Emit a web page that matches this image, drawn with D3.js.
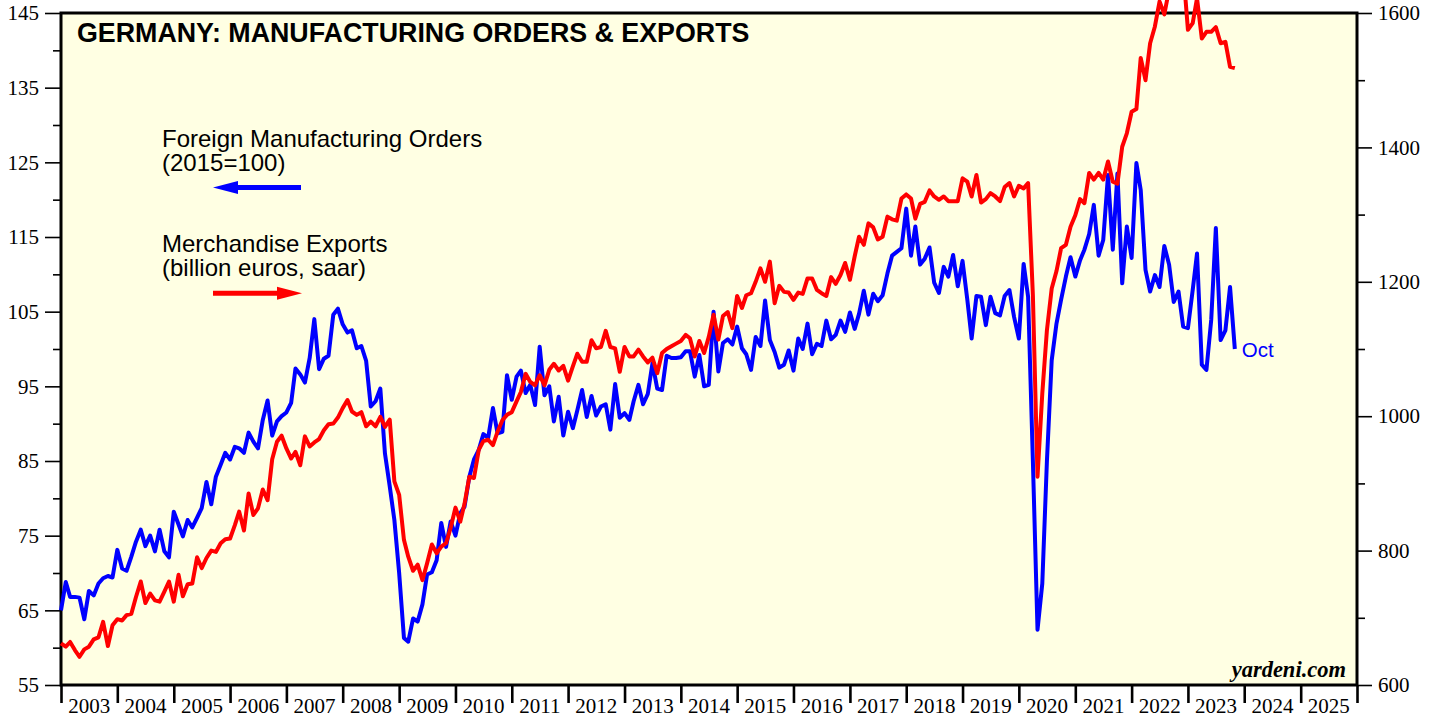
<!DOCTYPE html>
<html><head><meta charset="utf-8">
<script src="https://cdn.jsdelivr.net/npm/d3@7"></script>
<style>
html,body{margin:0;padding:0;background:#fff;}
svg{display:block;}
</style></head><body>
<svg id="chart" width="1438" height="717"></svg>
<script>
// ---------- data ----------
const chartTitle = "GERMANY: MANUFACTURING ORDERS & EXPORTS";
const firstMonth = [2002, 11]; // Dec 2002 (year, monthIndex)
const foreignOrders = [
  65.0, 68.8, 66.8, 66.8, 66.7, 63.8, 67.6, 67.0, 68.6, 69.3, 69.6, 69.4,
  73.1, 70.6, 70.3, 72.2, 74.2, 75.8, 73.6, 75.0, 72.9, 75.8, 72.9, 72.1,
  78.2, 76.5, 74.9, 77.1, 76.1, 77.4, 78.7, 82.2, 79.2, 82.9, 84.5, 86.1,
  85.2, 86.9, 86.7, 86.1, 88.8, 87.6, 86.7, 90.5, 93.1, 88.4, 90.3, 91.0,
  91.5, 92.8, 97.4, 96.6, 95.5, 98.8, 104.0, 97.3, 98.7, 99.1, 104.6, 105.4,
  103.3, 102.2, 102.5, 100.1, 100.4, 98.4, 92.3, 93.0, 94.7, 86.0, 81.6, 77.1,
  70.0, 61.3, 60.8, 63.9, 63.5, 65.8, 69.8, 70.1, 71.7, 76.7, 73.5, 76.9,
  75.0, 78.0, 78.9, 82.9, 85.2, 86.5, 88.6, 88.1, 92.1, 88.7, 88.9, 96.5,
  93.2, 96.3, 97.1, 94.1, 95.2, 92.5, 100.3, 93.8, 95.0, 90.3, 93.6, 88.4,
  91.6, 89.4, 91.8, 94.5, 90.9, 93.7, 91.1, 92.3, 92.6, 89.2, 95.3, 90.8,
  91.4, 90.5, 93.0, 95.2, 92.6, 94.0, 98.1, 94.7, 94.5, 99.1, 98.8, 98.8,
  98.9, 99.7, 99.7, 96.3, 99.2, 95.0, 95.2, 105.0, 97.0, 100.8, 101.3, 100.6,
  103.0, 100.1, 99.3, 97.2, 101.6, 100.4, 106.5, 101.2, 99.6, 97.5, 97.9, 99.8,
  97.1, 101.4, 100.0, 103.4, 99.3, 100.7, 100.4, 103.8, 101.3, 101.9, 103.8, 102.3,
  104.9, 102.7, 104.7, 107.8, 104.6, 107.4, 106.4, 107.2, 110.1, 112.5, 113.0, 113.5,
  118.8, 112.5, 116.4, 111.3, 112.1, 113.6, 108.9, 107.5, 111.0, 109.7, 112.6, 108.4,
  111.8, 106.6, 101.4, 107.1, 107.0, 103.2, 107.0, 104.8, 104.5, 107.1, 107.9, 104.3,
  101.4, 111.4, 107.0, 85.0, 62.4, 68.6, 85.0, 98.5, 103.4, 106.6, 109.7, 112.3,
  109.7, 111.9, 113.3, 115.4, 119.3, 112.5, 114.6, 123.3, 113.3, 123.5, 108.8, 116.4,
  112.2, 124.9, 121.3, 110.6, 107.7, 109.9, 108.3, 113.8, 111.3, 106.3, 107.7, 103.0,
  102.8, 107.9, 112.8, 97.9, 97.2, 103.9, 116.2, 101.2, 102.5, 108.3, 100.0
];
const merchandiseExports = [
  662, 657, 664, 652, 642, 653, 657, 668, 671, 694, 658, 689,
  698, 696, 704, 706, 731, 754, 722, 736, 726, 724, 739, 754,
  724, 764, 732, 750, 751, 790, 774, 789, 800, 798, 811, 817,
  818, 838, 858, 830, 885, 853, 863, 891, 875, 936, 962, 971,
  952, 937, 947, 927, 970, 955, 961, 966, 979, 988, 989, 998,
  1012, 1024, 1007, 1002, 1006, 985, 992, 985, 999, 984, 995, 903,
  883, 816, 791, 770, 779, 756, 781, 809, 796, 806, 811, 834,
  864, 843, 870, 910, 908, 950, 963, 965, 957, 977, 994, 1002,
  1006, 1022, 1036, 1063, 1051, 1046, 1061, 1046, 1069, 1078, 1068, 1075,
  1053, 1074, 1093, 1081, 1081, 1113, 1101, 1103, 1127, 1103, 1101, 1066,
  1103, 1089, 1089, 1099, 1089, 1080, 1087, 1064, 1094, 1100, 1104, 1108,
  1112, 1121, 1116, 1089, 1112, 1094, 1118, 1151, 1114, 1149, 1155, 1131,
  1179, 1161, 1180, 1183, 1200, 1220, 1200, 1230, 1168, 1194, 1185, 1184,
  1173, 1184, 1182, 1205, 1205, 1188, 1183, 1179, 1207, 1197, 1210, 1228,
  1203, 1238, 1267, 1255, 1287, 1281, 1263, 1267, 1297, 1293, 1291, 1324,
  1330, 1324, 1294, 1316, 1319, 1336, 1327, 1322, 1327, 1320, 1320, 1320,
  1354, 1349, 1327, 1359, 1318, 1323, 1332, 1327, 1320, 1341, 1347, 1327,
  1343, 1339, 1347, 1180, 910, 1034, 1128, 1190, 1216, 1250, 1255, 1282,
  1299, 1323, 1317, 1362, 1352, 1362, 1352, 1379, 1349, 1346, 1401, 1421,
  1453, 1457, 1533, 1500, 1555, 1580, 1617, 1598, 1635, 1660, 1650, 1665,
  1575, 1585, 1622, 1562, 1572, 1572, 1579, 1555, 1557, 1520, 1518
];
const leftTicks = [55, 65, 75, 85, 95, 105, 115, 125, 135, 145];
const leftMinorTicks = [60, 70, 80, 90, 100, 110, 120, 130, 140];
const rightTicks = [600, 800, 1000, 1200, 1400, 1600];
const rightMinorTicks = [700, 900, 1100, 1300, 1500];
const yearLabels = d3.range(2003, 2026);
const legendOrders = ["Foreign Manufacturing Orders", "(2015=100)"];
const legendExports = ["Merchandise Exports", "(billion euros, saar)"];
const lastLabel = "Oct";
const sourceLabel = "yardeni.com";

// ---------- layout ----------
const M = {left: 61, right: 1357, top: 13, bottom: 685};
const BLUE = "#0000ff", RED = "#ff0000";
const SERIF = "'Liberation Serif','Times New Roman',serif";
const SANS = "'Liberation Sans',Arial,Helvetica,sans-serif";

const svg = d3.select("#chart");

const x = d3.scaleTime()
  .domain([new Date(2003, 0, 1), new Date(2026, 0, 1)])
  .range([M.left, M.right]);
const yL = d3.scaleLinear().domain([55, 145]).range([M.bottom, M.top]);
const yR = d3.scaleLinear().domain([600, 1600]).range([M.bottom, M.top]);

const monthDate = i => new Date(firstMonth[0], firstMonth[1] + i, 1);
// each monthly value is plotted at the end of its month
const plotDate = i => d3.timeMonth.offset(monthDate(i), 1);

// plot background
svg.append("rect")
  .attr("x", M.left).attr("y", M.top)
  .attr("width", M.right - M.left).attr("height", M.bottom - M.top)
  .attr("fill", "#ffffe3");

// ---------- axes ----------
function styleAxis(g, sw) {
  g.select(".domain").remove();
  g.selectAll("line").attr("stroke", "#000").attr("stroke-width", sw);
  g.selectAll("text").attr("fill", "#000")
    .style("font-family", SERIF).style("font-size", "21px");
}

svg.append("g").attr("transform", `translate(${M.left},0)`)
  .call(d3.axisLeft(yL).tickValues(leftTicks).tickSize(16).tickPadding(6).tickFormat(d3.format("d")))
  .call(g => styleAxis(g, 1.6));
svg.append("g").attr("transform", `translate(${M.left},0)`)
  .call(d3.axisLeft(yL).tickValues(leftMinorTicks).tickSize(8).tickFormat(""))
  .call(g => styleAxis(g, 1.6));

svg.append("g").attr("transform", `translate(${M.right},0)`)
  .call(d3.axisRight(yR).tickValues(rightTicks).tickSize(15).tickPadding(6).tickFormat(d3.format("d")))
  .call(g => styleAxis(g, 1.6));
svg.append("g").attr("transform", `translate(${M.right},0)`)
  .call(d3.axisRight(yR).tickValues(rightMinorTicks).tickSize(8).tickFormat(""))
  .call(g => styleAxis(g, 1.6));

const yearBounds = d3.range(2003, 2027).map(y => new Date(y, 0, 1));
svg.append("g").attr("transform", `translate(0,${M.bottom})`)
  .call(d3.axisBottom(x).tickValues(yearBounds).tickSize(18).tickFormat(""))
  .call(g => styleAxis(g, 2.6));

svg.append("g").selectAll("text").data(yearLabels).join("text")
  .attr("x", d => (x(new Date(d, 0, 1)) + x(new Date(d + 1, 0, 1))) / 2)
  .attr("y", 713)
  .attr("text-anchor", "middle")
  .style("font-family", SERIF).style("font-size", "21px")
  .text(d => d);

// frame
svg.append("rect")
  .attr("x", M.left).attr("y", M.top)
  .attr("width", M.right - M.left).attr("height", M.bottom - M.top)
  .attr("fill", "none").attr("stroke", "#000").attr("stroke-width", 3);

// ---------- series ----------
const lineL = d3.line().x((d, i) => x(plotDate(i))).y(d => yL(d));
const lineR = d3.line().x((d, i) => x(plotDate(i))).y(d => yR(d));

svg.append("path").datum(foreignOrders)
  .attr("d", lineL).attr("fill", "none")
  .attr("stroke", BLUE).attr("stroke-width", 4)
  .attr("stroke-linejoin", "round");

svg.append("path").datum(merchandiseExports)
  .attr("d", lineR).attr("fill", "none")
  .attr("stroke", RED).attr("stroke-width", 4)
  .attr("stroke-linejoin", "round");

// ---------- annotations ----------
svg.append("text")
  .attr("x", 77).attr("y", 42)
  .style("font-family", SANS).style("font-size", "26.8px").style("font-weight", "bold")
  .text(chartTitle);

function legendBlock(lines, y0) {
  svg.append("g").selectAll("text").data(lines).join("text")
    .attr("x", 162).attr("y", (d, i) => y0 + i * 24.5)
    .style("font-family", SANS).style("font-size", "24px")
    .attr("fill", "#000")
    .text(d => d);
}
legendBlock(legendOrders, 146.5);
legendBlock(legendExports, 251.5);

// arrows
function arrow(x1, x2, y, color) {
  // x1 = tail, x2 = tip
  const dir = Math.sign(x2 - x1);
  const headLen = 25, headHalf = 6.5;
  svg.append("line")
    .attr("x1", x1).attr("y1", y).attr("x2", x2 - dir * (headLen - 2)).attr("y2", y)
    .attr("stroke", color).attr("stroke-width", 5);
  svg.append("path")
    .attr("d", `M${x2},${y} L${x2 - dir * headLen},${y - headHalf} L${x2 - dir * headLen},${y + headHalf} Z`)
    .attr("fill", color);
}
arrow(301, 213, 187.5, BLUE);
arrow(213, 302, 293.3, RED);

// last point label
const lastI = foreignOrders.length - 1;
svg.append("text")
  .attr("x", x(plotDate(lastI)) + 7)
  .attr("y", yL(foreignOrders[lastI]) + 8)
  .attr("fill", BLUE)
  .style("font-family", SANS).style("font-size", "20.5px")
  .text(lastLabel);

svg.append("text")
  .attr("x", 1346).attr("y", 677)
  .attr("text-anchor", "end")
  .style("font-family", SERIF).style("font-size", "22.5px")
  .style("font-weight", "bold").style("font-style", "italic")
  .text(sourceLabel);
</script>
</body></html>
